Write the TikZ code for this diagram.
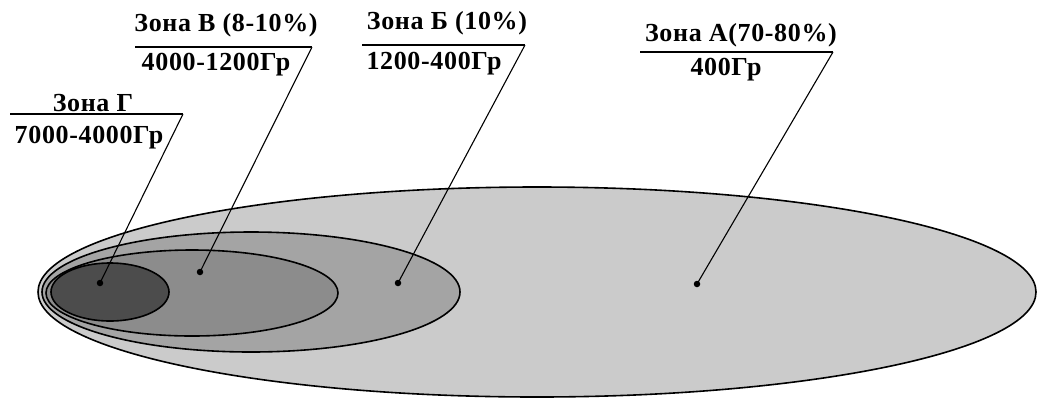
\documentclass[tikz,border=0pt]{standalone}
\usepackage{fontspec}
\setmainfont{Liberation Serif}[LetterSpace=2.5]
\definecolor{zoneA}{HTML}{CBCBCB}
\definecolor{zoneB}{HTML}{A4A4A4}
\definecolor{zoneV}{HTML}{8C8C8C}
\definecolor{zoneG}{HTML}{4C4C4C}

\begin{document}
\begin{tikzpicture}[x=1pt, y=-1pt, zone/.style={draw=black,line width=1.6pt}, ttl/.style={font=\fontsize{26}{29}\selectfont\bfseries,inner sep=0pt,anchor=center}, uline/.style={line width=1.5pt}, lead/.style={line width=1.1pt}, zdot/.style={circle,fill=black,inner sep=0pt,minimum size=6.5pt}]
\useasboundingbox (0,0) rectangle (1038,400);
\fill[white] (0,0) rectangle (1038,400);
% zones
\draw[zone,fill=zoneA] (537,292) ellipse [x radius=499,y radius=105];
\draw[zone,fill=zoneB] (251,292) ellipse [x radius=209,y radius=60];
\draw[zone,fill=zoneV] (192,293) ellipse [x radius=146,y radius=43];
\draw[zone,fill=zoneG] (110,292) ellipse [x radius=59,y radius=29];
\node[zdot] (dA) at (697,284) {};
\node[zdot] (dB) at (398,283) {};
\node[zdot] (dV) at (200,272) {};
\node[zdot] (dG) at (100,283) {};
% labels
\node[ttl] (tA) at (741,35) {Зона А(70-80\%)};
\node[ttl] (vA) at (726,70) {400Гр};
\coordinate (lA) at (640,52); \coordinate (kA) at (833,52);
\node[ttl] (tB) at (447,23) {Зона Б (10\%)};
\node[ttl] (vB) at (434,64) {1200-400Гр};
\coordinate (lB) at (362,45); \coordinate (kB) at (525,45);
\node[ttl] (tV) at (226,25) {Зона В (8-10\%)};
\node[ttl] (vV) at (216,65) {4000-1200Гр};
\coordinate (lV) at (135,47); \coordinate (kV) at (312,47);
\node[ttl] (tG) at (93,103) {Зона Г};
\node[ttl] (vG) at (89,138) {7000-4000Гр};
\coordinate (lG) at (10,114); \coordinate (kG) at (183,114);
\foreach \z in {A,B,V,G}{
  \draw[uline] (l\z) -- (k\z);
  \draw[lead] (k\z) -- (d\z.center);
}
\end{tikzpicture}
\end{document}
